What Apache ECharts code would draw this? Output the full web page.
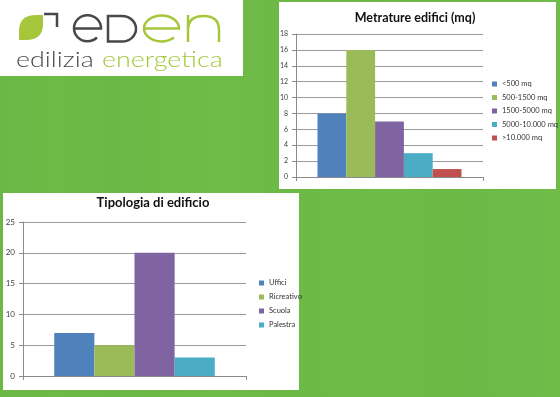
<!DOCTYPE html>
<html><head><meta charset="utf-8">
<script src="https://cdn.jsdelivr.net/npm/echarts@6/dist/echarts.min.js"></script>
<style>html,body{margin:0;padding:0;background:#6dba46}#c{width:560px;height:397px}</style>
</head><body><div id="c"></div>
<script>
// Chart 1: Metrature edifici (mq)
var sizeClasses = ['<500 mq', '500-1500 mq', '1500-5000 mq', '5000-10.000 mq', '>10.000 mq'];
var sizeValues = [8, 16, 7, 3, 1];
var sizeTicks = [0, 2, 4, 6, 8, 10, 12, 14, 16, 18];
// Chart 2: Tipologia di edificio
var typeClasses = ['Uffici', 'Ricreativo', 'Scuola', 'Palestra'];
var typeValues = [7, 5, 20, 3];
var typeTicks = [0, 5, 10, 15, 20, 25];

var palette = ['#4f81bd', '#9bbb59', '#8064a2', '#4bacc6', '#c0504d'];
var FONT = 'Lato, "Open Sans", sans-serif';
var chart = echarts.init(document.getElementById('c'));

function yAxis(gi, ticks, labelSize) {
  return {
    type: 'value', gridIndex: gi, min: ticks[0], max: ticks[ticks.length - 1],
    interval: ticks[1] - ticks[0],
    axisLine: {show: true, lineStyle: {color: '#8a8a8a', width: 1}},
    axisTick: {show: true, length: 4, lineStyle: {color: '#8a8a8a'}},
    axisLabel: {fontSize: labelSize, color: '#404040', margin: 8, fontFamily: FONT},
    splitLine: {lineStyle: {color: '#9a9a9a', width: 1}}
  };
}
function xAxis(gi) {
  return {
    type: 'category', gridIndex: gi, data: [''],
    axisLine: {show: true, lineStyle: {color: '#8a8a8a'}},
    axisTick: {show: true, length: 4, alignWithLabel: false, lineStyle: {color: '#8a8a8a'}},
    axisLabel: {show: false}
  };
}
var series = [];
sizeClasses.forEach(function (n, i) {
  series.push({type: 'bar', name: n, xAxisIndex: 0, yAxisIndex: 0, data: [sizeValues[i]],
    barGap: '0%', barCategoryGap: '23%', itemStyle: {color: palette[i]}, silent: true});
});
typeClasses.forEach(function (n, i) {
  series.push({type: 'bar', name: n, xAxisIndex: 1, yAxisIndex: 1, data: [typeValues[i]],
    barGap: '0%', barCategoryGap: '28%', itemStyle: {color: palette[i]}, silent: true});
});

var darkLogo = '#484848', greenLogo = '#a6c73c';
// logo drawn as a custom series without coordinate system
series.push({
  type: 'custom', coordinateSystem: 'none', data: [0], silent: true, z: 5,
  renderItem: function () {
    function p(d, fill, stroke) {
      return {type: 'path', shape: {pathData: d},
        style: {fill: fill || 'none', stroke: stroke || 'none', lineWidth: 2.5}};
    }
    return {type: 'group', children: [
      p('M19 40 L19 31 Q19 15 36 15 L43 15 L43 24 Q43 40 26 40 Z', greenLogo, null),
      p('M44 14 L57 14 L57 27', null, darkLogo),
      p('M75 28.5 L101 28.5 A13.5 13 0 1 0 97 37.5', null, darkLogo),
      p('M108 16 L122 16 A14 12.8 0 0 1 122 41.6 L108 41.6 Z', null, darkLogo),
      p('M144 28.5 L179 28.5 A17.5 13 0 1 0 174 37.5', null, greenLogo),
      p('M188 42 L188 15 M188 30 Q188 16 203.5 16 Q219 16 219 30 L219 42', null, greenLogo)
    ]};
  }
});

var bgStops = [];
var bgCols = ['#6cb846','#6eba47','#6bb846','#6dba47','#6fbc49','#6cb946','#6dba47','#6fbb48','#6cb946','#6eba48','#6fbc49'];
bgCols.forEach(function (c, i) { bgStops.push({offset: i / (bgCols.length - 1), color: c}); });

chart.setOption({
  animation: false,
  backgroundColor: {type: 'linear', x: 0, y: 0, x2: 1, y2: 0, colorStops: bgStops},
  grid: [
    {left: 296, right: 77, top: 34, bottom: 220},
    {left: 23, right: 314, top: 222, bottom: 21}
  ],
  xAxis: [xAxis(0), xAxis(1)],
  yAxis: [yAxis(0, sizeTicks, 7), yAxis(1, typeTicks, 8)],
  legend: [
    {data: sizeClasses, orient: 'vertical', left: 492, top: 80, padding: 0, icon: 'rect',
     itemWidth: 5, itemHeight: 5, itemGap: 5.5, textStyle: {fontSize: 7.5, color: '#333', fontFamily: FONT}},
    {data: typeClasses, orient: 'vertical', left: 259, top: 279, padding: 0, icon: 'rect',
     itemWidth: 5, itemHeight: 5, itemGap: 6, textStyle: {fontSize: 7.5, color: '#333', fontFamily: FONT}}
  ],
  graphic: [
    {type: 'rect', z: -10, shape: {x: 0, y: 0, width: 243, height: 76}, style: {fill: '#ffffff'}},
    {type: 'rect', z: -10, shape: {x: 279, y: 2, width: 277, height: 187}, style: {fill: '#ffffff'}},
    {type: 'rect', z: -10, shape: {x: 3, y: 193, width: 296, height: 197}, style: {fill: '#ffffff'}},
    {type: 'text', style: {text: 'Metrature edifici (mq)', x: 415, y: 18, textAlign: 'center', textVerticalAlign: 'middle',
      font: 'bold 12.5px ' + FONT, fill: '#111'}},
    {type: 'text', style: {text: 'Tipologia di edificio', x: 153, y: 203, textAlign: 'center', textVerticalAlign: 'middle',
      font: 'bold 13px ' + FONT, fill: '#111'}},
    {type: 'text', x: 16, y: 60, scaleX: 1.28, style: {text: 'edilizia', x: 0, y: 0, textVerticalAlign: 'middle', font: '300 21px ' + FONT, fill: darkLogo}},
    {type: 'text', x: 102, y: 60, scaleX: 1.28, style: {text: 'energetica', x: 0, y: 0, textVerticalAlign: 'middle', font: '300 21px ' + FONT, fill: greenLogo}}
  ],
  series: series
});
</script></body></html>
